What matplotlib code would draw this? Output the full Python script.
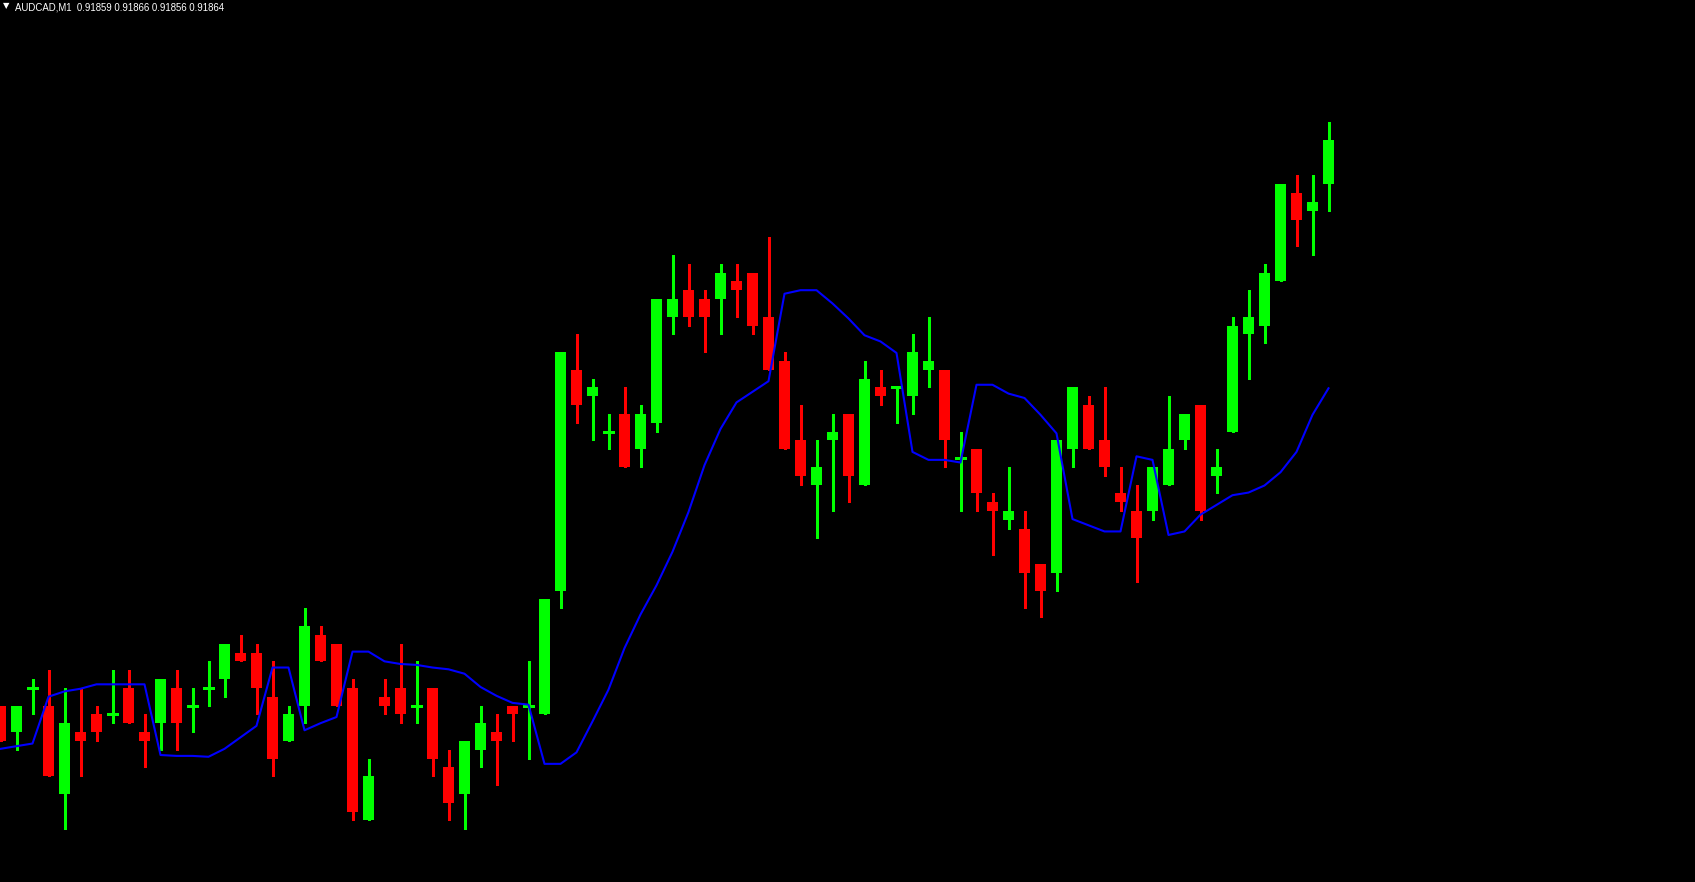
import matplotlib.pyplot as plt

# AUDCAD M1 candles (open, high, low, close)
opens = [0.91800, 0.91797, 0.91802, 0.91800, 0.91790, 0.91797, 0.91799, 0.91799, 0.91802, 0.91797,
         0.91798, 0.91802, 0.91800, 0.91802, 0.91803, 0.91806, 0.91806, 0.91801, 0.91796, 0.91800,
         0.91808, 0.91807, 0.91802, 0.91787, 0.91801, 0.91802, 0.91800, 0.91802, 0.91793, 0.91790,
         0.91795, 0.91797, 0.91800, 0.91800, 0.91799, 0.91813, 0.91838, 0.91835, 0.91831, 0.91833,
         0.91829, 0.91832, 0.91844, 0.91847, 0.91846, 0.91846, 0.91848, 0.91849, 0.91844, 0.91839,
         0.91830, 0.91825, 0.91830, 0.91833, 0.91825, 0.91836, 0.91836, 0.91835, 0.91838, 0.91838,
         0.91828, 0.91829, 0.91823, 0.91821, 0.91820, 0.91816, 0.91815, 0.91829, 0.91834, 0.91830,
         0.91824, 0.91822, 0.91822, 0.91825, 0.91830, 0.91834, 0.91826, 0.91831, 0.91842, 0.91843,
         0.91848, 0.91858, 0.91856, 0.91859]
highs = [0.91800, 0.91800, 0.91803, 0.91804, 0.91802, 0.91802, 0.91800, 0.91804, 0.91804, 0.91799,
         0.91803, 0.91804, 0.91802, 0.91805, 0.91807, 0.91808, 0.91807, 0.91805, 0.91800, 0.91811,
         0.91809, 0.91807, 0.91803, 0.91794, 0.91803, 0.91807, 0.91805, 0.91802, 0.91795, 0.91796,
         0.91800, 0.91799, 0.91800, 0.91805, 0.91812, 0.91840, 0.91842, 0.91837, 0.91833, 0.91836,
         0.91834, 0.91846, 0.91851, 0.91850, 0.91847, 0.91850, 0.91850, 0.91849, 0.91853, 0.91840,
         0.91834, 0.91830, 0.91833, 0.91833, 0.91839, 0.91838, 0.91836, 0.91842, 0.91844, 0.91838,
         0.91831, 0.91829, 0.91824, 0.91827, 0.91822, 0.91816, 0.91830, 0.91836, 0.91835, 0.91836,
         0.91827, 0.91825, 0.91827, 0.91835, 0.91833, 0.91834, 0.91829, 0.91844, 0.91847, 0.91850,
         0.91859, 0.91860, 0.91860, 0.91866]
lows = [0.91796, 0.91795, 0.91799, 0.91792, 0.91786, 0.91792, 0.91796, 0.91798, 0.91798, 0.91793,
        0.91795, 0.91795, 0.91797, 0.91800, 0.91801, 0.91805, 0.91799, 0.91792, 0.91796, 0.91798,
        0.91805, 0.91800, 0.91787, 0.91787, 0.91799, 0.91798, 0.91798, 0.91792, 0.91787, 0.91786,
        0.91793, 0.91791, 0.91796, 0.91794, 0.91799, 0.91811, 0.91832, 0.91830, 0.91829, 0.91827,
        0.91827, 0.91831, 0.91842, 0.91843, 0.91840, 0.91842, 0.91844, 0.91842, 0.91838, 0.91829,
        0.91825, 0.91819, 0.91822, 0.91823, 0.91825, 0.91834, 0.91832, 0.91833, 0.91836, 0.91827,
        0.91822, 0.91822, 0.91817, 0.91820, 0.91811, 0.91810, 0.91813, 0.91827, 0.91829, 0.91826,
        0.91822, 0.91814, 0.91821, 0.91825, 0.91829, 0.91821, 0.91824, 0.91831, 0.91837, 0.91841,
        0.91848, 0.91852, 0.91851, 0.91856]
closes = [0.91796, 0.91800, 0.91802, 0.91792, 0.91798, 0.91796, 0.91797, 0.91799, 0.91798, 0.91796,
          0.91803, 0.91798, 0.91800, 0.91802, 0.91807, 0.91805, 0.91802, 0.91794, 0.91799, 0.91809,
          0.91805, 0.91800, 0.91788, 0.91792, 0.91800, 0.91799, 0.91800, 0.91794, 0.91789, 0.91796,
          0.91798, 0.91796, 0.91799, 0.91800, 0.91812, 0.91840, 0.91834, 0.91836, 0.91831, 0.91827,
          0.91833, 0.91846, 0.91846, 0.91844, 0.91844, 0.91849, 0.91847, 0.91843, 0.91838, 0.91829,
          0.91826, 0.91827, 0.91831, 0.91826, 0.91837, 0.91835, 0.91836, 0.91840, 0.91839, 0.91830,
          0.91828, 0.91824, 0.91822, 0.91822, 0.91815, 0.91813, 0.91830, 0.91836, 0.91829, 0.91827,
          0.91823, 0.91819, 0.91827, 0.91829, 0.91833, 0.91822, 0.91827, 0.91843, 0.91844, 0.91849,
          0.91859, 0.91855, 0.91857, 0.91864]

# Indicator line (blue)
ma_values = [0.917951, 0.917954, 0.917957, 0.918010, 0.918016, 0.918019, 0.918024, 0.918024, 0.918024, 0.918024,
             0.917944, 0.917943, 0.917943, 0.917942, 0.917951, 0.917964, 0.917977, 0.918043, 0.918043, 0.917972,
             0.917980, 0.917987, 0.918061, 0.918061, 0.918050, 0.918047, 0.918046, 0.918043, 0.918041, 0.918036,
             0.918021, 0.918011, 0.918003, 0.918001, 0.917934, 0.917934, 0.917947, 0.917982, 0.918018, 0.918065,
             0.918103, 0.918136, 0.918174, 0.918219, 0.918272, 0.918313, 0.918343, 0.918355, 0.918367, 0.918466,
             0.918470, 0.918470, 0.918455, 0.918438, 0.918419, 0.918412, 0.918399, 0.918287, 0.918278, 0.918278,
             0.918275, 0.918363, 0.918363, 0.918353, 0.918348, 0.918329, 0.918308, 0.918211, 0.918204, 0.918197,
             0.918197, 0.918282, 0.918278, 0.918193, 0.918197, 0.918216, 0.918227, 0.918238, 0.918241, 0.918249,
             0.918264, 0.918287, 0.918329, 0.918359]

title_text = "AUDCAD,M1  0.91859 0.91866 0.91856 0.91864"

BULL = "#00ff00"
BEAR = "#ff0000"


def main():
    fig = plt.figure(figsize=(16.95, 8.82), dpi=100, facecolor="black")
    ax = fig.add_axes([0, 0, 1, 1])
    ax.set_facecolor("black")
    ax.axis("off")

    x = list(range(len(opens)))
    colors = [BULL if c >= o else BEAR for o, c in zip(opens, closes)]

    # wicks
    ax.vlines(x, lows, highs, colors=colors, linewidth=0.75, antialiased=False, zorder=1)

    # bodies
    body_w = 11 / 16
    for xi, o, c, col in zip(x, opens, closes, colors):
        if abs(c - o) < 1e-7:
            ax.hlines(o, xi - body_w / 2, xi + body_w / 2, colors=col,
                      linewidth=0.75, antialiased=False, zorder=2)
        else:
            ax.bar(xi, abs(c - o), bottom=min(o, c), width=body_w, color=col,
                   linewidth=0, antialiased=False, zorder=2)

    # indicator line
    ax.plot(x, ma_values, color="#0000ff", linewidth=1.5, zorder=3)

    ax.set_xlim(-0.03125, -0.03125 + 1695 / 16)
    ax.set_ylim(0.9178003, 0.9187984)

    # header
    fig.text(3 / 1695, 1 - 8.5 / 882, "\u25bc", color="white", fontsize=6,
             family="DejaVu Sans", va="baseline")
    fig.text(15 / 1695, 1 - 10 / 882, title_text, color="white", fontsize=6.9,
             family="Liberation Sans", va="baseline")

    fig.savefig("out.png", dpi=100, facecolor="black")


if __name__ == "__main__":
    main()
